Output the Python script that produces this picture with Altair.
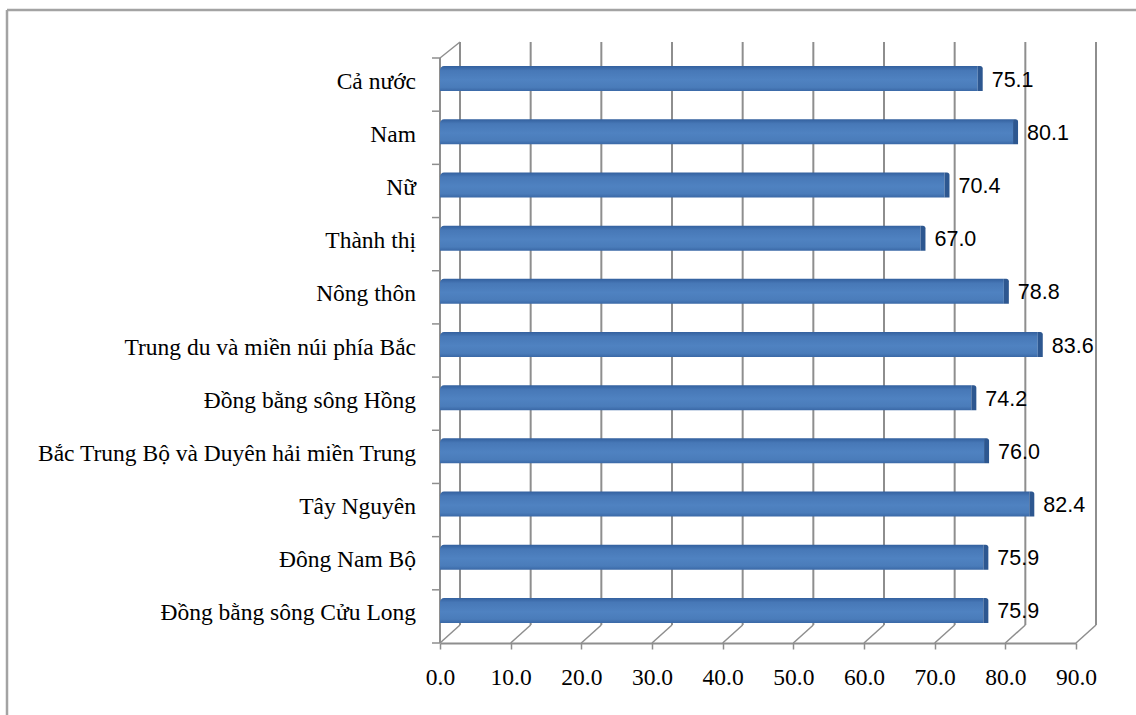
import altair as alt
import pandas as pd

# Data
categories = [
    "Cả nước",
    "Nam",
    "Nữ",
    "Thành thị",
    "Nông thôn",
    "Trung du và miền núi phía Bắc",
    "Đồng bằng sông Hồng",
    "Bắc Trung Bộ và Duyên hải miền Trung",
    "Tây Nguyên",
    "Đông Nam Bộ",
    "Đồng bằng sông Cửu Long",
]
values = [75.1, 80.1, 70.4, 67.0, 78.8, 83.6, 74.2, 76.0, 82.4, 75.9, 75.9]
tick_values = [0, 10, 20, 30, 40, 50, 60, 70, 80, 90]

# Geometry of the plot area and the pseudo-3D walls
W, H = 636, 585
DX, DY = 20, 18          # depth of the back wall
BAR_DX, BAR_DY = 7, -6   # bars sit midway in depth
BAR_SIZE = 25

GRID = "#8e8e8e"
SERIF = "Liberation Serif"
SANS = "Liberation Sans"

bars = pd.DataFrame({"cat": categories, "val": values,
                     "label": [f"{v:.1f}" for v in values]})
grid = pd.DataFrame({"t": tick_values})
one = pd.DataFrame({"k": [0]})

xs = alt.Scale(domain=[0, 90], nice=False, zero=True)
ys = alt.Scale(domain=categories, paddingInner=0, paddingOuter=0)

x_axis = alt.Axis(
    values=tick_values, format=".1f", title=None, grid=False,
    labelFont=SERIF, labelFontSize=23.5, labelColor="black",
    labelBaseline="middle", labelPadding=28, labelFlush=False,
    tickSize=6, tickColor=GRID, tickWidth=1.5,
    domainColor=GRID, domainWidth=2,
)

# Back-wall vertical gridlines
back_grid = alt.Chart(grid).mark_rule(color=GRID, strokeWidth=2, xOffset=DX).encode(
    x=alt.X("t:Q", scale=xs, axis=x_axis),
    y=alt.value(-16),
    y2=alt.value(H - DY),
)

# Slanted floor lines joining the front axis to the back wall
floor = alt.Chart(grid).mark_rule(color=GRID, strokeWidth=1.5, x2Offset=DX).encode(
    x=alt.X("t:Q", scale=xs),
    x2=alt.X2("t"),
    y=alt.value(H),
    y2=alt.value(H - DY),
)

# Left wall: front edge, top slant and category ticks
left_edge = alt.Chart(one).mark_rule(color=GRID, strokeWidth=2).encode(
    x=alt.value(0), y=alt.value(0), y2=alt.value(H)
)
left_top = alt.Chart(one).mark_rule(color=GRID, strokeWidth=1.5).encode(
    x=alt.value(0), x2=alt.value(DX), y=alt.value(0), y2=alt.value(-16)
)
left_ticks = alt.Chart(bars).mark_rule(color=GRID, strokeWidth=1.5).encode(
    y=alt.Y("cat:N", scale=ys, sort=categories, axis=None, bandPosition=0),
    x=alt.value(-8), x2=alt.value(0),
)
left_tick_last = alt.Chart(one).mark_rule(color=GRID, strokeWidth=1.5).encode(
    x=alt.value(-8), x2=alt.value(0), y=alt.value(H)
)

# Bars: front face with a vertical shading gradient
front_fill = alt.Gradient(
    gradient="linear", x1=0, y1=0, x2=0, y2=1,
    stops=[
        alt.GradientStop(color="#33609e", offset=0),
        alt.GradientStop(color="#4778b7", offset=0.18),
        alt.GradientStop(color="#4f82c1", offset=0.55),
        alt.GradientStop(color="#4a7cba", offset=0.85),
        alt.GradientStop(color="#3a68a6", offset=1),
    ],
)
bar_front = alt.Chart(bars).mark_bar(
    size=BAR_SIZE, yOffset=BAR_DY, xOffset=BAR_DX, x2Offset=BAR_DX,
    color=front_fill, cornerRadiusTopLeft=4,
).encode(
    y=alt.Y("cat:N", scale=ys, sort=categories, axis=None),
    x=alt.X("val:Q", scale=xs, stack=None),
)

# Dark end cap of each bar
bar_end = alt.Chart(bars).mark_bar(
    size=BAR_SIZE, yOffset=BAR_DY, xOffset=BAR_DX, x2Offset=BAR_DX + 5,
    color="#2d5790", cornerRadiusTopRight=3,
).encode(
    y=alt.Y("cat:N", scale=ys, sort=categories, axis=None),
    x=alt.X("val:Q", scale=xs, stack=None),
    x2=alt.X2("val"),
)

# Value labels at the end of each bar
value_text = alt.Chart(bars).mark_text(
    font=SANS, fontSize=21.5, color="black", align="left", baseline="middle",
    dx=BAR_DX + 14, dy=-4,
).encode(
    y=alt.Y("cat:N", scale=ys, sort=categories, axis=None),
    x=alt.X("val:Q", scale=xs),
    text="label:N",
)

# Category names to the left of the wall
cat_text = alt.Chart(bars).mark_text(
    font=SERIF, fontSize=23.5, color="black", align="right", baseline="middle", dy=-3,
).encode(
    y=alt.Y("cat:N", scale=ys, sort=categories, axis=None),
    x=alt.value(-24),
    text="cat:N",
)

# Outer chart frame (left and top edges)
frame_left = alt.Chart(one).mark_rule(color="#a3a3a3", strokeWidth=2.5).encode(
    x=alt.value(-433), y=alt.value(-48), y2=alt.value(715)
)
frame_top = alt.Chart(one).mark_rule(color="#a3a3a3", strokeWidth=2.5).encode(
    x=alt.value(-433), x2=alt.value(1136), y=alt.value(-48)
)

chart = alt.layer(
    frame_left, frame_top,
    back_grid, floor, left_edge, left_top, left_ticks, left_tick_last,
    bar_front, bar_end, value_text, cat_text,
).properties(
    width=W, height=H,
    autosize=alt.AutoSizeParams(type="none"),
    padding={"left": 440, "top": 58, "right": 60, "bottom": 72},
    background="white",
).configure_view(stroke=None)

chart.save("out.html", embed_options={"renderer": "svg", "actions": False})
